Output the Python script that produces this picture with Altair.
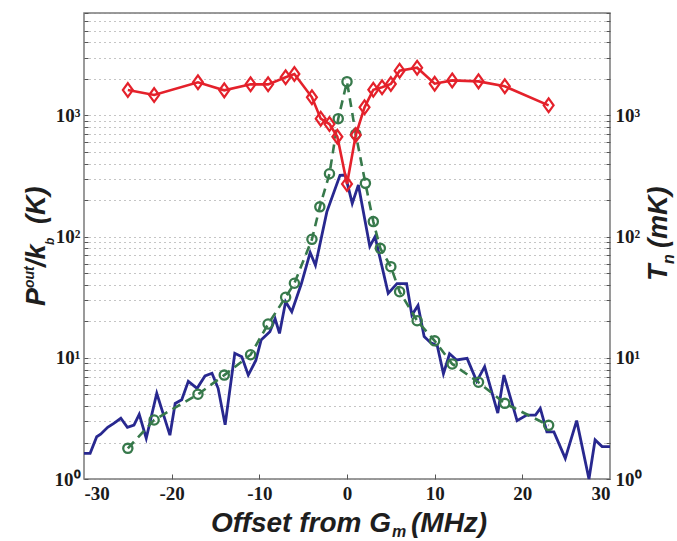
import altair as alt
import pandas as pd

# ---------------- data ----------------
blue_x = [-30, -29.3, -28.55, -28.1, -27.3, -26.6, -25.8, -25.05, -24.3, -23.7, -22.9,
          -21.7, -20.2, -19.6, -18.85, -18.1, -17.1, -16.2, -15.4, -14.7, -13.9,
          -12.8, -12.0, -11.26, -10.4, -9.8, -8.8, -8.2, -7.7, -7.0, -6.3, -5.2,
          -4.2, -3.6, -2.3, -0.8, -0.2, 0.6, 1.3, 2.6, 3.2, 4.7, 5.7, 6.8, 7.4,
          8.1, 8.8, 9.5, 10.3, 11.0, 11.7, 12.5, 13.7, 14.8, 15.7, 17.2, 17.9,
          19.4, 20.5, 21.5, 22.05, 22.8, 23.6, 24.9, 26.2, 27.6, 28.3, 29.1, 30]
blue_y = [1.63, 1.63, 2.23, 2.34, 2.67, 2.88, 3.17, 2.67, 2.79, 3.42, 2.17,
          5.1, 2.3, 4.2, 4.5, 6.4, 5.6, 7.08, 7.45, 5.6, 2.8,
          10.9, 10.2, 7.2, 9.5, 14.0, 16.4, 21.0, 15.9, 29.0, 24.0, 41.0,
          74.0, 58.0, 160.0, 320.0, 322.0, 188.0, 267.0, 83.0, 100.0, 34.0, 41.0, 41.0, 22.5,
          27.0, 15.0, 13.4, 12.6, 7.4, 10.8, 9.6, 9.9, 6.4, 8.45, 3.5, 7.2,
          3.03, 3.37, 3.37, 3.83, 2.45, 2.45, 1.48, 3.03, 1.0, 2.1, 1.85, 1.85]

green_x = [-25, -22, -17, -14, -11, -9, -7, -6, -4, -3.1, -2, -1, 0, 1, 2.1, 3, 3.8,
           5, 6, 8, 10, 12, 15, 18, 23]
green_y = [1.79, 3.07, 5.0, 7.2, 10.6, 19.0, 31.6, 41.2, 95, 176, 330, 940, 1900, 700,
           275, 133, 80, 56.5, 35.1, 20.2, 13.8, 8.9, 6.28, 4.21, 2.77]

red_x = [-25, -22, -17, -14, -11, -9, -7, -6, -4, -3, -2, -1.1, 0, 1, 2, 3, 4, 5, 6,
         8, 10, 12, 15, 18, 23]
red_y = [1620, 1473, 1876, 1610, 1805, 1805, 2063, 2197, 1410, 940, 849, 667, 272, 689,
         1166, 1629, 1706, 1816, 2339, 2476, 1828, 1945, 1910, 1738, 1211]

x_tick_values = [-30, -20, -10, 0, 10, 20, 30]
x_inner_tick_values = [-20, -10, 0, 10, 20]
y_tick_values = [m * 10 ** k for k in range(4) for m in range(1, 10) if m * 10 ** k <= 7000]

# ---------------- styling ----------------
BLUE = "#28288f"
GREEN = "#37794b"
RED = "#e4212b"
FRAME = "#7a7a7a"

x_scale = alt.Scale(domain=[-30, 30], nice=False, zero=False)
y_scale = alt.Scale(type="log", domain=[1, 7000], nice=False)

sup_expr = ("datum.value == 1 ? '10\u2070' : datum.value == 10 ? '10\u00b9' : "
            "datum.value == 100 ? '10\u00b2' : datum.value == 1000 ? '10\u00b3' : ''")

label_style = dict(labelFont="Liberation Serif", labelFontWeight="bold",
                   labelFontSize=19, labelColor="#1a1a1a")

x_main = alt.Axis(orient="bottom", values=x_tick_values, labelExpr="'' + datum.value",
                  ticks=False, domain=False, grid=False, title=None, labelPadding=5,
                  **label_style)
x_inner = alt.Axis(orient="bottom", values=x_inner_tick_values, labels=False, ticks=True,
                   tickSize=5, offset=-5, domain=False, grid=False, title=None,
                   tickColor="#555555", tickWidth=1)
y_left = alt.Axis(orient="left", values=y_tick_values, labelExpr=sup_expr, ticks=False,
                  domain=False, grid=True, gridDash=[1, 4], gridColor="#8a8a8a",
                  gridWidth=1, title=None, labelPadding=4, labelOverlap=False,
                  **label_style)
y_left_ticks = alt.Axis(orient="left", values=y_tick_values, labels=False, ticks=True,
                        tickSize=4, offset=-4, domain=False, grid=False, title=None,
                        tickColor="#555555", tickWidth=1)
y_right = alt.Axis(orient="right", values=y_tick_values, labelExpr=sup_expr, ticks=False,
                   domain=False, grid=False, title=None, labelPadding=5,
                   labelOverlap=False, **label_style)
y_right_ticks = alt.Axis(orient="right", values=y_tick_values, labels=False, ticks=True,
                         tickSize=4, offset=-4, domain=False, grid=False, title=None,
                         tickColor="#555555", tickWidth=1)

blue_df = pd.DataFrame({"x": blue_x, "y": blue_y})
green_df = pd.DataFrame({"x": green_x, "y": green_y})
red_df = pd.DataFrame({"x": red_x, "y": red_y})

blue = alt.Chart(blue_df).mark_line(color=BLUE, strokeWidth=2.8).encode(
    x=alt.X("x:Q", scale=x_scale, axis=x_main),
    y=alt.Y("y:Q", scale=y_scale, axis=y_left),
)
green_line = alt.Chart(green_df).mark_line(color=GREEN, strokeWidth=2.6,
                                           strokeDash=[9, 6]).encode(
    x=alt.X("x:Q", scale=x_scale, axis=x_inner),
    y=alt.Y("y:Q", scale=y_scale, axis=y_left_ticks),
)
green_pts = alt.Chart(green_df).mark_point(shape="circle", size=85, strokeWidth=2.3,
                                           color=GREEN, filled=False, opacity=1).encode(
    x=alt.X("x:Q", scale=x_scale, axis=None),
    y=alt.Y("y:Q", scale=y_scale, axis=y_right),
)
red_line = alt.Chart(red_df).mark_line(color=RED, strokeWidth=2.6).encode(
    x=alt.X("x:Q", scale=x_scale, axis=None),
    y=alt.Y("y:Q", scale=y_scale, axis=y_right_ticks),
)
red_pts = alt.Chart(red_df).mark_point(shape="M0,-1L0.72,0L0,1L-0.72,0Z", size=190,
                                       strokeWidth=2.2, color=RED, filled=False,
                                       opacity=1).encode(
    x=alt.X("x:Q", scale=x_scale, axis=None),
    y=alt.Y("y:Q", scale=y_scale, axis=None),
)


def label(text, x, y, size, angle=0, align="left"):
    return alt.Chart(alt.Data(values=[{"t": text}])).mark_text(
        text=text, font="Liberation Sans", fontStyle="italic", fontWeight="bold",
        fontSize=size, angle=angle, align=align, baseline="alphabetic", color="#1e1e1e",
    ).encode(x=alt.value(x), y=alt.value(y))


titles = [
    # y title (left): P^out / k_b (K)
    label("P", -39, 293, 27, angle=270),
    label("out", -50, 275, 14, angle=270),
    label("/k", -39, 254, 27, angle=270),
    label("b", -30, 232, 12, angle=270),
    label("(K)", -39, 211, 27, angle=270),
    # right title: T_n (mK)
    label("T", 583, 268, 27, angle=270),
    label("n", 590, 251, 16, angle=270),
    label("(mK)", 583, 235, 27, angle=270),
    # x title: Offset from G_m (MHz)
    label("Offset from G", 307, 519, 28, align="right"),
    label("m", 308, 524, 16),
    label("(MHz)", 327, 519, 28),
]

chart = alt.layer(blue, green_line, green_pts, red_line, red_pts, *titles).resolve_axis(
    x="independent", y="independent"
).properties(
    width=526,
    height=466,
    autosize=alt.AutoSizeParams(type="none"),
    padding={"left": 84, "top": 13, "right": 67, "bottom": 62},
    background="white",
).configure_view(stroke=FRAME, strokeWidth=1.5)

chart.save("out.html", embed_options={"renderer": "svg", "actions": False})
